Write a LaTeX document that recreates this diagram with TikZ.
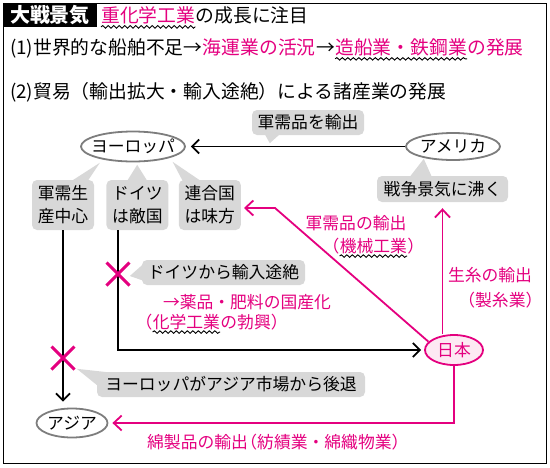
\documentclass[tikz,border=0pt]{standalone}
\usepackage{fontspec}
\setmainfont{Noto Sans CJK JP}
\usepackage{tikz}
\usepackage{xcolor}
\usetikzlibrary{arrows.meta,positioning,shapes.geometric,shapes.misc,decorations.pathmorphing}
\definecolor{senMag}{RGB}{228,0,127}
\definecolor{senGray}{RGB}{216,216,216}
\definecolor{senEdge}{RGB}{125,125,125}
\definecolor{senPink}{RGB}{253,233,243}
\newcommand{\hdsize}{\fontsize{18.8}{22}\selectfont}
\newcommand{\dgsize}{\fontsize{16.8}{23}\selectfont}
\newcommand{\kakkoL}{\kern-0.45em（}
\newcommand{\kakkoR}{）\kern-0.45em}

\begin{document}
\begin{tikzpicture}[x=1pt,y=-1pt,
    lineTxt/.style={inner sep=0pt,font=\hdsize},
    hdBox/.style={fill=black,text=white,inner sep=0pt,minimum width=94pt,minimum height=24pt,font=\fontsize{20}{22}\selectfont\bfseries},
    land/.style={ellipse,draw=senEdge,line width=1.8pt,fill=white,inner xsep=-14pt,inner ysep=0pt,font=\dgsize},
    noteBox/.style={fill=senGray,rounded corners=5pt,inner sep=0pt,align=center,font=\dgsize},
    noteTail/.style={fill=senGray},
    pkTxt/.style={inner sep=0pt,text=senMag,font=\dgsize},
    blkArrow/.style={-{Straight Barb[length=7pt,width=14pt]},line width=1.8pt},
    pkArrow/.style={-{Straight Barb[length=8pt,width=15pt]},line width=1.8pt,senMag},
    xMark/.style={cross out,draw=senMag,line width=3pt,minimum size=20pt,inner sep=0pt},
    wave/.style={decorate,decoration={snake,amplitude=1.3pt,segment length=5.5pt},line width=0.9pt},
    node distance=12pt
  ]
    \useasboundingbox (0,0) rectangle (550,467);
    \draw[line width=1.8pt] (3.5,3.5) rectangle (546.5,463.5);

    % title and the two headings
    \node[hdBox] (hd) at (50,15) {大戦景気};
    \node[lineTxt,anchor=west,text=senMag] (hdA) at (101,15) {重化学工業};
    \node[lineTxt,anchor=base west] (hdB) at (hdA.base east) {の成長に注目};
    \draw[wave] ([yshift=-3pt]hdA.south west) -- ([yshift=-3pt]hdA.south east);

    \node[lineTxt,anchor=west] (l1a) at (10,48) {(1)世界的な船舶不足→};
    \node[lineTxt,anchor=base west,text=senMag] (l1b) at (l1a.base east) {海運業の活況};
    \node[lineTxt,anchor=base west] (l1c) at (l1b.base east) {→};
    \node[lineTxt,anchor=base west,text=senMag] (l1d) at (l1c.base east) {造船業・鉄鋼業};
    \node[lineTxt,anchor=base west,text=senMag] (l1e) at (l1d.base east) {の発展};
    \draw[wave] ([yshift=-3pt]l1d.south west) -- ([yshift=-3pt]l1d.south east);

    \node[lineTxt,anchor=west] (l2) at (10,92) {(2)貿易（輸出拡大・輸入途絶）による諸産業の発展};

    % countries
    \node[land,minimum width=104pt,minimum height=30pt] (eu) at (133,146.5) {ヨーロッパ};
    \node[land,minimum width=94pt,minimum height=27pt] (us) at (453,146.5) {アメリカ};
    \node[land,draw=senMag,fill=senPink,text=senMag,minimum width=58pt,minimum height=30pt] (jp) at (454,350) {日本};
    \node[land,minimum width=71pt,minimum height=29pt] (asia) at (72,423) {アジア};

    % callouts
    \node[noteBox,minimum width=112pt,minimum height=25pt] (arms) at (308,122.5) {軍需品を輸出};
    \node[noteBox,minimum width=62pt,minimum height=50pt] (mil) at (63,205) {軍需生\\産中心};
    \node[noteBox,minimum width=62pt,minimum height=50pt,right=of mil] (ger) {ドイツ\\は敵国};
    \node[noteBox,minimum width=62pt,minimum height=50pt,right=10pt of ger] (ally) {連合国\\は味方};
    \node[noteBox,minimum width=131pt,minimum height=26pt] (boom) at (442.5,189) {戦争景気に沸く};
    \node[noteBox,minimum width=163pt,minimum height=25pt] (cut) at (223.5,272.5) {ドイツから輸入途絶};
    \node[noteBox,minimum width=268pt,minimum height=25pt] (retreat) at (231,384.5) {ヨーロッパがアジア市場から後退};

    \fill[noteTail] ([xshift=13pt,yshift=1pt]arms.south west) -- ([xshift=18pt,yshift=-8pt]arms.south west) -- ([xshift=28pt,yshift=1pt]arms.south west) -- cycle;
    \fill[noteTail] ([xshift=40pt,yshift=-1pt]mil.north west) -- ([xshift=68pt,yshift=17pt]mil.north west) -- ([xshift=56pt,yshift=-1pt]mil.north west) -- cycle;
    \fill[noteTail] ([xshift=21pt,yshift=-1pt]ger.north west) -- ([xshift=31pt,yshift=15pt]ger.north west) -- ([xshift=41pt,yshift=-1pt]ger.north west) -- cycle;
    \fill[noteTail] ([xshift=4pt,yshift=-1pt]ally.north west) -- ([xshift=-6pt,yshift=18pt]ally.north west) -- ([xshift=22pt,yshift=-1pt]ally.north west) -- cycle;
    \fill[noteTail] ([xshift=33pt,yshift=-1pt]boom.north west) -- ([xshift=47pt,yshift=17pt]boom.north west) -- ([xshift=55pt,yshift=-1pt]boom.north west) -- cycle;
    \fill[noteTail] ([xshift=1pt,yshift=8pt]cut.west) -- ([xshift=-12pt,yshift=-3.5pt]cut.west) -- ([xshift=1pt,yshift=-8pt]cut.west) -- cycle;
    \fill[noteTail] ([xshift=1pt,yshift=-14pt]retreat.north west) -- ([xshift=-20pt,yshift=3pt]retreat.north west) -- ([xshift=16pt,yshift=-1pt]retreat.north west) -- cycle;

    % magenta labels
    \node[pkTxt] (armsOut) at (356,223) {軍需品の輸出};
    \node[pkTxt,anchor=base west] (mcA) at (330,252) {\kakkoL};
    \node[pkTxt,anchor=base west] (mcB) at (mcA.base east) {機械工業};
    \node[pkTxt,anchor=base west] (mcC) at (mcB.base east) {\kakkoR};
    \draw[wave] ([yshift=-2.5pt]mcB.south west) -- ([yshift=-2.5pt]mcB.south east);

    \node[pkTxt] (silk) at (490,275) {生糸の輸出};
    \node[pkTxt,anchor=east] (silkInd) at (535,300) {\kakkoL 製糸業\kakkoR};

    \node[pkTxt] (drug) at (247,302) {→薬品・肥料の国産化};
    \node[pkTxt,anchor=base west] (chA) at (143,328) {\kakkoL};
    \node[pkTxt,anchor=base west] (chB) at (chA.base east) {化学工業};
    \node[pkTxt,anchor=base west] (chC) at (chB.base east) {の勃興\kakkoR};
    \draw[wave] ([yshift=-2.5pt]chB.south west) -- ([yshift=-2.5pt]chB.south east);

    \node[pkTxt] (cotton) at (274,442) {綿製品の輸出\kakkoL 紡績業・綿織物業\kakkoR};

    % connectors
    \coordinate (bend) at (275,208);
    \draw[blkArrow,shorten >=5pt] (us.west) -- (eu.east);
    \draw[pkArrow,shorten >=3pt] (jp.162) -- (bend) -- (ally.east |- bend);
    \draw[pkArrow,shorten >=6pt] (jp.north -| boom.south) -- (boom.south);
    \draw[pkArrow,shorten >=4pt] (jp.south) |- (asia.east);
    \draw[blkArrow,shorten >=6pt] (mil.south) -- (mil.south |- asia.north);
    \draw[blkArrow,shorten >=3pt] ([xshift=12pt]ger.south west) |- (jp.west);

    \node[xMark] (cutX) at (118,274) {};
    \node[xMark] (retreatX) at (63,358) {};
  \end{tikzpicture}
\end{document}
